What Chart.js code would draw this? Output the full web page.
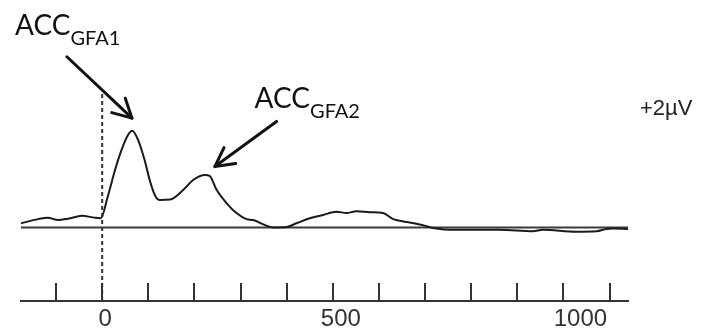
<!DOCTYPE html>
<html>
<head>
<meta charset="utf-8">
<script src="https://cdn.jsdelivr.net/npm/chart.js@4.4.0/dist/chart.umd.min.js"></script>
<style>
  html, body { margin: 0; padding: 0; background: #fff; }
  #wrap { width: 709px; height: 331px; position: relative; }
</style>
</head>
<body>
<div id="wrap"><canvas id="c"></canvas></div>
<script>
// Averaged ACC waveform: latency (ms) and amplitude (µV)
const timeMs = [-176, -139, -118, -96, -74, -44, -16, -3, 12, 28, 42, 56, 65, 78, 92, 103, 114, 125, 147, 176,
  197, 223, 233, 248, 270, 291, 313, 327, 356, 371, 400, 421, 450, 479, 508, 530, 551, 580, 609, 631,
  660, 681, 703, 717, 768, 804, 862, 934, 955, 1028, 1072, 1093, 1107, 1140];
const amplitudeUv = [0.09, 0.18, 0.21, 0.16, 0.19, 0.25, 0.21, 0.20, 0.66, 1.24, 1.67, 1.99, 2.08, 1.88, 1.45, 1.02, 0.70, 0.59, 0.60, 0.81,
  1.02, 1.13, 1.11, 0.81, 0.52, 0.31, 0.18, 0.16, 0.04, 0.00, 0.01, 0.09, 0.20, 0.27, 0.34, 0.31, 0.35, 0.33, 0.31, 0.18,
  0.12, 0.08, 0.03, -0.01, -0.05, -0.05, -0.05, -0.08, -0.05, -0.09, -0.08, -0.03, -0.02, -0.03];

// Time axis ticks and the ones that carry a number
const tickValues = [-100, 0, 100, 200, 300, 400, 500, 600, 700, 800, 900, 1000, 1100];
const tickLabels = [0, 500, 1000];

// Epoch window, zero line and stimulus-onset marker
const epochRange = [-176, 1140];
const zeroLine = [0, 0];
const onsetMs = 0;
const onsetSpanUv = [-1.58, 2.89];

// Peak names
const peakNames = ['GFA1', 'GFA2'];
const scaleLabel = '+2µV';

const Y_MIN = -1.58, Y_MAX = 4.46;

const overlay = {
  id: 'overlay',
  afterDatasetsDraw(chart) {
    const { ctx, scales: { x, y }, chartArea } = chart;
    const axisY = chartArea.bottom;
    ctx.save();

    // upward tick marks on the time axis
    ctx.strokeStyle = '#333';
    ctx.lineWidth = 2;
    tickValues.forEach(v => {
      const px = Math.round(x.getPixelForValue(v));
      ctx.beginPath();
      ctx.moveTo(px, axisY);
      ctx.lineTo(px, axisY - 18);
      ctx.stroke();
    });

    // numbers under the axis (printed slightly right of their ticks)
    const nudge = { 0: 3, 500: 8, 1000: 17 };
    ctx.font = '24px "Liberation Sans"';
    ctx.fillStyle = '#333';
    ctx.textAlign = 'center';
    ctx.textBaseline = 'middle';
    tickLabels.forEach(v => {
      ctx.fillText(String(v), x.getPixelForValue(v) + (nudge[v] || 0), axisY + 18);
    });

    // arrows pointing at the two peaks (tail -> head, in ms / µV)
    const arrows = [
      { from: [-76.5, 3.67], to: [64.6, 2.35] },
      { from: [378, 2.28], to: [244.3, 1.31] }
    ];
    ctx.strokeStyle = '#111';
    ctx.lineWidth = 3;
    ctx.lineCap = 'round';
    ctx.lineJoin = 'round';
    arrows.forEach(a => {
      const x0 = x.getPixelForValue(a.from[0]), y0 = y.getPixelForValue(a.from[1]);
      const x1 = x.getPixelForValue(a.to[0]), y1 = y.getPixelForValue(a.to[1]);
      ctx.beginPath();
      ctx.moveTo(x0, y0);
      ctx.lineTo(x1, y1);
      ctx.stroke();
      const back = Math.atan2(y0 - y1, x0 - x1);
      const spread = 28 * Math.PI / 180, len = 21;
      ctx.beginPath();
      ctx.moveTo(x1 + len * Math.cos(back + spread), y1 + len * Math.sin(back + spread));
      ctx.lineTo(x1, y1);
      ctx.lineTo(x1 + len * Math.cos(back - spread), y1 + len * Math.sin(back - spread));
      ctx.stroke();
    });

    // peak names with subscripts
    const names = [
      { at: [-189, 4.14], sub: peakNames[0] },
      { at: [330.5, 2.56], sub: peakNames[1] }
    ];
    ctx.fillStyle = '#111';
    ctx.textBaseline = 'alphabetic';
    ctx.textAlign = 'left';
    names.forEach(n => {
      const px = x.getPixelForValue(n.at[0]);
      const py = y.getPixelForValue(n.at[1]);
      ctx.font = '28px Lato';
      ctx.fillText('ACC', px, py);
      const w = ctx.measureText('ACC').width;
      ctx.font = '20px Lato';
      ctx.fillText(n.sub, px + w, py + 10);
    });

    // amplitude scale label
    ctx.font = '22px "Liberation Sans"';
    ctx.fillStyle = '#222';
    ctx.fillText(scaleLabel, x.getPixelForValue(1166), y.getPixelForValue(2.42));

    ctx.restore();
  }
};

new Chart(document.getElementById('c'), {
  type: 'line',
  data: {
    datasets: [
      {
        label: 'ACC',
        data: timeMs.map((t, i) => ({ x: t, y: amplitudeUv[i] })),
        borderColor: '#1a1a1a',
        borderWidth: 2,
        pointRadius: 0,
        cubicInterpolationMode: 'monotone',
        fill: false
      },
      {
        label: 'zero',
        data: epochRange.map((t, i) => ({ x: t, y: zeroLine[i] })),
        borderColor: '#3a3a3a',
        borderWidth: 2,
        pointRadius: 0
      },
      {
        label: 'onset',
        data: onsetSpanUv.map(v => ({ x: onsetMs, y: v })),
        borderColor: '#333',
        borderWidth: 2,
        borderDash: [4, 3],
        pointRadius: 0
      }
    ]
  },
  options: {
    responsive: true,
    maintainAspectRatio: false,
    animation: false,
    devicePixelRatio: 1,
    layout: { padding: { left: 21, right: 81, top: 20, bottom: 0 } },
    plugins: { legend: { display: false }, tooltip: { enabled: false } },
    scales: {
      x: {
        type: 'linear',
        min: epochRange[0],
        max: epochRange[1],
        afterBuildTicks: s => { s.ticks = tickValues.map(v => ({ value: v })); },
        afterFit: s => { s.height = 30; },
        grid: { display: false, drawTicks: false },
        border: { display: true, color: '#333', width: 2 },
        ticks: { display: false }
      },
      y: {
        display: false,
        min: Y_MIN,
        max: Y_MAX
      }
    }
  },
  plugins: [overlay]
});
</script>
</body>
</html>
